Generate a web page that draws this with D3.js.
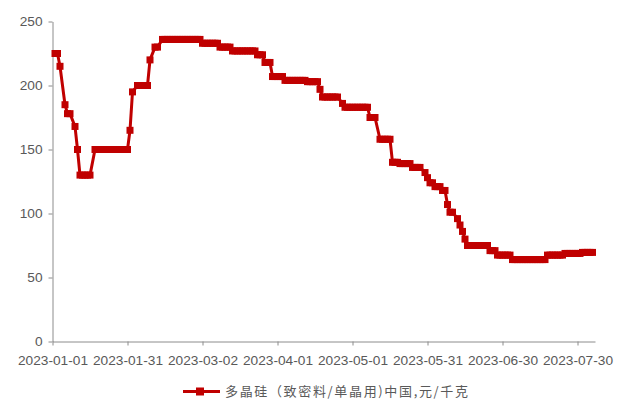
<!DOCTYPE html>
<html>
<head>
<meta charset="utf-8">
<script src="https://cdn.jsdelivr.net/npm/d3@7"></script>
<style>
  html, body { margin: 0; padding: 0; background: #fff; }
  svg { display: block; }
</style>
</head>
<body>
<svg id="chart" width="627" height="400"></svg>
<script>
// Daily polysilicon quotes, stored as runs of days holding the same price.
const runStart = [
  "2023-01-02", "2023-01-04", "2023-01-06", "2023-01-07", "2023-01-10", "2023-01-11",
  "2023-01-12", "2023-01-18", "2023-02-01", "2023-02-02", "2023-02-04", "2023-02-09",
  "2023-02-11", "2023-02-14", "2023-03-02", "2023-03-09", "2023-03-14", "2023-03-24",
  "2023-03-27", "2023-03-30", "2023-04-04", "2023-04-13", "2023-04-18", "2023-04-19",
  "2023-04-27", "2023-04-28", "2023-05-08", "2023-05-12", "2023-05-17", "2023-05-20",
  "2023-05-25", "2023-05-30", "2023-05-31", "2023-06-01", "2023-06-03", "2023-06-06",
  "2023-06-08", "2023-06-09", "2023-06-12", "2023-06-13", "2023-06-14", "2023-06-15",
  "2023-06-16", "2023-06-25", "2023-06-28", "2023-07-04", "2023-07-18", "2023-07-25",
  "2023-08-01"
];
const runEnd = [
  "2023-01-03", "2023-01-04", "2023-01-06", "2023-01-08", "2023-01-10", "2023-01-11",
  "2023-01-16", "2023-01-31", "2023-02-01", "2023-02-02", "2023-02-08", "2023-02-09",
  "2023-02-12", "2023-03-01", "2023-03-08", "2023-03-13", "2023-03-23", "2023-03-26",
  "2023-03-29", "2023-04-03", "2023-04-12", "2023-04-17", "2023-04-18", "2023-04-25",
  "2023-04-27", "2023-05-07", "2023-05-10", "2023-05-16", "2023-05-19", "2023-05-24",
  "2023-05-28", "2023-05-30", "2023-05-31", "2023-06-02", "2023-06-05", "2023-06-07",
  "2023-06-08", "2023-06-10", "2023-06-12", "2023-06-13", "2023-06-14", "2023-06-15",
  "2023-06-24", "2023-06-27", "2023-07-03", "2023-07-17", "2023-07-24", "2023-07-31",
  "2023-08-05"
];
const runPrice = [
  225, 215, 185, 178, 168, 150,
  130, 150, 165, 195, 200, 220,
  230, 236, 233, 230, 227, 224,
  218, 207, 204, 203, 197, 191,
  186, 183, 175, 158, 140, 139,
  136, 132, 128, 124, 121, 118,
  107, 101, 96, 91, 86, 80,
  75, 71, 67.5, 64, 67.5, 68.8,
  69.6
];

const tickDates = [
  "2023-01-01", "2023-01-31", "2023-03-02", "2023-04-01",
  "2023-05-01", "2023-05-31", "2023-06-30", "2023-07-30"
];
const yTicks = [0, 50, 100, 150, 200, 250];
const axisStart = "2023-01-01";
const axisEnd = "2023-08-06";
const seriesName = "多晶硅（致密料/单晶用)中国,元/千克";

const parse = d3.utcParse("%Y-%m-%d");
const fmt = d3.utcFormat("%Y-%m-%d");

// expand each run into one quote per day
const points = [];
runPrice.forEach((p, i) => {
  const s = parse(runStart[i]);
  const e = d3.utcDay.offset(parse(runEnd[i]), 1);
  d3.utcDay.range(s, e).forEach(d => points.push({ date: d, price: p }));
});

const RED = "#c00000";
const AXIS = "#8c8c8c";
const TEXT = "#595959";

const svg = d3.select("#chart");

const x = d3.scaleUtc()
  .domain([parse(axisStart), parse(axisEnd)])
  .range([52.5, 595]);
const y = d3.scaleLinear()
  .domain([0, 250])
  .range([341.5, 21.5]);

// y axis
const yAxis = svg.append("g")
  .attr("transform", "translate(52.5,0)")
  .call(d3.axisLeft(y).tickValues(yTicks).tickSize(4).tickPadding(6).tickSizeOuter(0));

// x axis
const xAxis = svg.append("g")
  .attr("transform", "translate(0,341.5)")
  .call(d3.axisBottom(x)
    .tickValues(tickDates.map(parse))
    .tickFormat(fmt)
    .tickSize(4).tickPadding(9.5).tickSizeOuter(0));

[yAxis, xAxis].forEach(g => {
  g.select(".domain").attr("stroke", AXIS).attr("stroke-width", 1);
  g.selectAll(".tick line").attr("stroke", AXIS).attr("stroke-width", 1);
  g.selectAll(".tick text")
    .attr("fill", TEXT)
    .style("font-family", "'Liberation Sans', Arial, sans-serif")
    .style("font-size", "13.7px");
});

// price line
const line = d3.line()
  .x(d => x(d.date))
  .y(d => y(d.price));

svg.append("path")
  .datum(points)
  .attr("fill", "none")
  .attr("stroke", RED)
  .attr("stroke-width", 3)
  .attr("stroke-linejoin", "round")
  .attr("d", line);

// square markers
const M = 7;
svg.append("g")
  .selectAll("rect")
  .data(points)
  .join("rect")
  .attr("x", d => x(d.date) - M / 2)
  .attr("y", d => y(d.price) - M / 2)
  .attr("width", M)
  .attr("height", M)
  .attr("fill", RED);

// legend
const legend = svg.append("g").attr("transform", "translate(0,391.5)");
legend.append("line")
  .attr("x1", 183).attr("x2", 220)
  .attr("y1", 0).attr("y2", 0)
  .attr("stroke", RED).attr("stroke-width", 3);
legend.append("rect")
  .attr("x", 200 - 4).attr("y", -4)
  .attr("width", 8).attr("height", 8)
  .attr("fill", RED);
legend.append("text")
  .attr("x", 225)
  .attr("y", 0)
  .attr("dy", "0.36em")
  .attr("textLength", 243)
  .attr("lengthAdjust", "spacing")
  .attr("fill", TEXT)
  .style("font-family", "'Noto Sans CJK SC', sans-serif")
  .style("font-size", "13px")
  .text(seriesName);
</script>
</body>
</html>
